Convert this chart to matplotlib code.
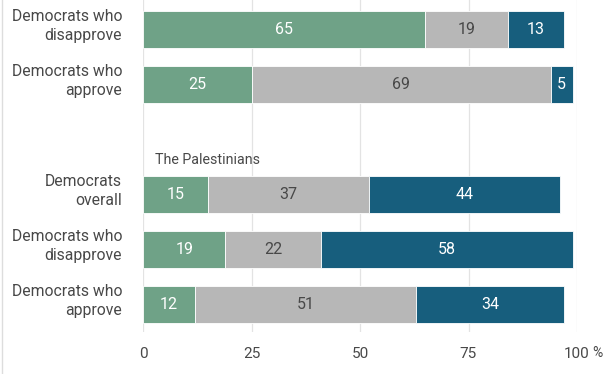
import matplotlib
matplotlib.use("Agg")
import matplotlib.pyplot as plt
from matplotlib.lines import Line2D
from matplotlib.transforms import ScaledTranslation

plt.rcParams['font.family'] = ['Roboto', 'DejaVu Sans']

categories = ["Democrats who\ndisapprove", "Democrats who\napprove", "",
              "Democrats\noverall", "Democrats who\ndisapprove", "Democrats who\napprove"]
favorable = [65, 25, None, 15, 19, 12]
neutral = [19, 69, None, 37, 22, 51]
unfavorable = [13, 5, None, 44, 58, 34]
section_label = "The Palestinians"
xticks = [0, 25, 50, 75, 100]
xticklabels = ["0", "25", "50", "75", "100"]
pct_sign = "%"

c_green = "#6fa287"
c_grey = "#b7b7b7"
c_blue = "#175e7d"
c_text = "#484848"

fig = plt.figure(figsize=(6.12, 3.74), dpi=100)
ax = fig.add_axes([143/612, 1 - 332/374, (577-143)/612, 332/374])

for i, (a, b, c) in enumerate(zip(favorable, neutral, unfavorable)):
    if a is None:
        continue
    ax.barh(i, a, left=0, height=0.68, color=c_green, edgecolor="white", linewidth=0.6)
    ax.barh(i, b, left=a, height=0.68, color=c_grey, edgecolor="white", linewidth=0.6)
    ax.barh(i, c, left=a + b, height=0.68, color=c_blue, edgecolor="white", linewidth=0.6)
    ax.text(a / 2, i, str(a), ha="center", va="center", color="white", fontsize=11.5)
    ax.text(a + b / 2, i, str(b), ha="center", va="center", color=c_text, fontsize=11.5)
    ax.text(a + b + c / 2, i, str(c), ha="center", va="center", color="white", fontsize=11.5)

ax.text(2.8, 2.38, section_label, ha="left", va="center", color=c_text, fontsize=10.3)

ax.set_xlim(0, 100)
ax.set_ylim(5.5, -0.536)
ax.set_xticks(xticks)
ax.set_xticklabels(xticklabels, fontsize=11, color=c_text)
ax.set_yticks(range(len(categories)))
ax.set_yticklabels(categories, fontsize=11.3, color=c_text, linespacing=1.3)
ax.tick_params(axis="both", length=0)
ax.tick_params(axis="x", pad=11)
ax.tick_params(axis="y", pad=15)
for lab in ax.get_yticklabels():
    lab.set_transform(lab.get_transform() + ScaledTranslation(0, 7/100, fig.dpi_scale_trans))

# percent sign after the last tick label
ax.annotate(pct_sign, xy=(100, 0), xycoords=("data", "axes fraction"),
            xytext=(11, -15), textcoords="offset points", ha="left", va="center",
            fontsize=10, color=c_text, annotation_clip=False)

ax.grid(axis="x", color="#e3e3e3", linewidth=0.9)
ax.set_axisbelow(True)
for s in ax.spines.values():
    s.set_visible(False)

fig.add_artist(Line2D([1.5/612, 1.5/612], [0, 1], color="#dddddd", linewidth=1, transform=fig.transFigure))

fig.savefig("out.png", dpi=100)
